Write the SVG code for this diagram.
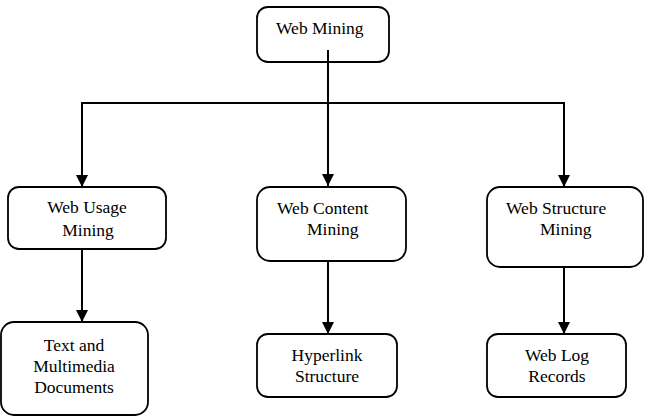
<svg xmlns="http://www.w3.org/2000/svg" width="658" height="416" viewBox="0 0 658 416">
  <defs>
    <marker id="arrow" markerUnits="userSpaceOnUse" markerWidth="12" markerHeight="12" viewBox="0 0 12 12" refX="12" refY="6" orient="auto">
      <path d="M0,0 L12,6 L0,12 Z" fill="#000"/>
    </marker>
    <style>
      .box { fill: #fff; stroke: #000; stroke-width: 1.8; }
      .conn { fill: none; stroke: #000; stroke-width: 2; }
      text { font-family: 'Liberation Serif', 'Times New Roman', serif; font-size: 17.5px; fill: #000; }
    </style>
  </defs>
  <rect width="658" height="416" fill="#fff"/>

  <g id="connectors">
    <line class="conn" x1="82" y1="103" x2="564" y2="103"/>
    <line class="conn" x1="328" y1="50" x2="328" y2="186" marker-end="url(#arrow)"/>
    <line class="conn" x1="82" y1="102" x2="82" y2="187" marker-end="url(#arrow)"/>
    <line class="conn" x1="564" y1="102" x2="564" y2="187" marker-end="url(#arrow)"/>
    <line class="conn" x1="82" y1="249" x2="82" y2="322" marker-end="url(#arrow)"/>
    <line class="conn" x1="328" y1="261" x2="328" y2="334" marker-end="url(#arrow)"/>
    <line class="conn" x1="564" y1="267" x2="564" y2="334" marker-end="url(#arrow)"/>
  </g>

  <g id="web-mining">
    <rect class="box" x="257" y="7" width="132" height="55" rx="11"/>
    <text x="276" y="34" font-family="'Liberation Serif', serif">Web Mining</text>
  </g>
  <line class="conn" x1="328" y1="50" x2="328" y2="62"/>

  <g id="web-usage-mining">
    <rect class="box" x="8" y="187" width="158" height="62" rx="11"/>
    <text x="87" y="213" font-family="'Liberation Serif', serif" text-anchor="middle">Web Usage</text>
    <text x="88" y="236" font-family="'Liberation Serif', serif" text-anchor="middle">Mining</text>
  </g>

  <g id="web-content-mining">
    <rect class="box" x="257" y="187" width="149" height="74" rx="13"/>
    <text x="277" y="214" font-family="'Liberation Serif', serif">Web Content</text>
    <text x="307" y="235" font-family="'Liberation Serif', serif">Mining</text>
  </g>

  <g id="web-structure-mining">
    <rect class="box" x="487" y="187" width="156" height="80" rx="13"/>
    <text x="506" y="214" font-family="'Liberation Serif', serif">Web Structure</text>
    <text x="540" y="235" font-family="'Liberation Serif', serif">Mining</text>
  </g>

  <g id="text-multimedia-documents">
    <rect class="box" x="1" y="322" width="147" height="93" rx="13"/>
    <text x="74" y="351" font-family="'Liberation Serif', serif" text-anchor="middle">Text and</text>
    <text x="74" y="372" font-family="'Liberation Serif', serif" text-anchor="middle">Multimedia</text>
    <text x="74" y="393" font-family="'Liberation Serif', serif" text-anchor="middle">Documents</text>
  </g>

  <g id="hyperlink-structure">
    <rect class="box" x="257" y="334" width="140" height="63" rx="11"/>
    <text x="327" y="361" font-family="'Liberation Serif', serif" text-anchor="middle">Hyperlink</text>
    <text x="327" y="382" font-family="'Liberation Serif', serif" text-anchor="middle">Structure</text>
  </g>

  <g id="web-log-records">
    <rect class="box" x="487" y="334" width="139" height="63" rx="11"/>
    <text x="557" y="361" font-family="'Liberation Serif', serif" text-anchor="middle">Web Log</text>
    <text x="557" y="382" font-family="'Liberation Serif', serif" text-anchor="middle">Records</text>
  </g>
</svg>
